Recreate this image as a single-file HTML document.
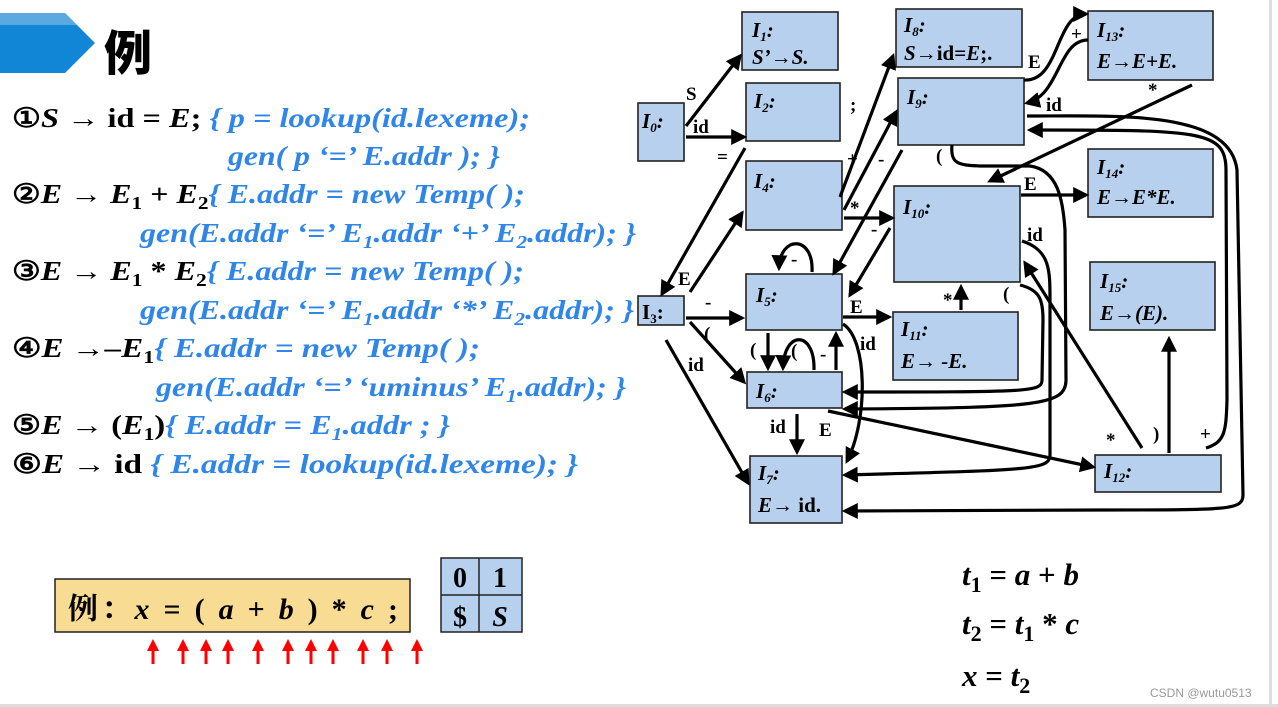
<!DOCTYPE html>
<html><head><meta charset="utf-8"><style>
html,body{margin:0;padding:0;background:#fff;}
svg{display:block;}
</style></head><body>
<svg width="1278" height="707" viewBox="0 0 1278 707" xmlns="http://www.w3.org/2000/svg">
<defs>
<marker id="a" markerWidth="5" markerHeight="5" refX="4" refY="2.5" orient="auto" markerUnits="strokeWidth">
<path d="M0,0 L5,2.5 L0,5 Z" fill="#000"/></marker>
<marker id="r" markerWidth="4" markerHeight="4" refX="3" refY="2" orient="auto" markerUnits="strokeWidth">
<path d="M0,0 L4,2 L0,4 Z" fill="#f00"/></marker>
</defs>
<rect x="1269" y="0" width="3" height="707" fill="#ddd"/>
<rect x="0" y="704" width="1278" height="3" fill="#ddd"/>
<!-- header -->
<polygon points="0,13 65,13 95,43 65,73 0,73" fill="#1185d6"/>
<polygon points="0,13 65,13 77,25 0,25" fill="#5aa9e0"/>
<text x="104" y="70" style="font-family:'Noto Sans CJK SC','WenQuanYi Zen Hei',sans-serif;font-weight:900;font-size:48px">例</text>

<!-- rules -->
<g style="font-family:'Liberation Serif','Times New Roman',serif;font-weight:bold;font-size:27px" fill="#000">
<text x="12" y="127" textLength="518" lengthAdjust="spacingAndGlyphs"><tspan>①</tspan><tspan font-style="italic">S</tspan><tspan> → id = </tspan><tspan font-style="italic">E</tspan><tspan>; </tspan><tspan fill="#2f86e8" font-style="italic">{ p = lookup(id.lexeme);</tspan></text>
<text x="228" y="165" textLength="272" lengthAdjust="spacingAndGlyphs" fill="#2f86e8" font-style="italic">gen( p ‘=’ E.addr ); }</text>
<text x="12" y="203" textLength="513" lengthAdjust="spacingAndGlyphs"><tspan>②</tspan><tspan font-style="italic">E</tspan><tspan> → </tspan><tspan font-style="italic">E</tspan><tspan font-size="18" dy="6">1</tspan><tspan dy="-6"> + </tspan><tspan font-style="italic">E</tspan><tspan font-size="18" dy="6">2</tspan><tspan fill="#2f86e8" font-style="italic" dy="-6">{ E.addr = new Temp( );</tspan></text>
<text x="140" y="242" textLength="496" lengthAdjust="spacingAndGlyphs" fill="#2f86e8" font-style="italic">gen(E.addr ‘=’ E<tspan font-size="18" dy="6">1</tspan><tspan dy="-6">.addr ‘+’ E</tspan><tspan font-size="18" dy="6">2</tspan><tspan dy="-6">.addr); }</tspan></text>
<text x="12" y="280" textLength="512" lengthAdjust="spacingAndGlyphs"><tspan>③</tspan><tspan font-style="italic">E</tspan><tspan> → </tspan><tspan font-style="italic">E</tspan><tspan font-size="18" dy="6">1</tspan><tspan dy="-6"> * </tspan><tspan font-style="italic">E</tspan><tspan font-size="18" dy="6">2</tspan><tspan fill="#2f86e8" font-style="italic" dy="-6">{ E.addr = new Temp( );</tspan></text>
<text x="140" y="319" textLength="494" lengthAdjust="spacingAndGlyphs" fill="#2f86e8" font-style="italic">gen(E.addr ‘=’ E<tspan font-size="18" dy="6">1</tspan><tspan dy="-6">.addr ‘*’ E</tspan><tspan font-size="18" dy="6">2</tspan><tspan dy="-6">.addr); }</tspan></text>
<text x="12" y="357" textLength="468" lengthAdjust="spacingAndGlyphs"><tspan>④</tspan><tspan font-style="italic">E</tspan><tspan> →</tspan><tspan font-style="italic">–E</tspan><tspan font-size="18" dy="6">1</tspan><tspan fill="#2f86e8" font-style="italic" dy="-6">{ E.addr = new Temp( );</tspan></text>
<text x="156" y="396" textLength="470" lengthAdjust="spacingAndGlyphs" fill="#2f86e8" font-style="italic">gen(E.addr ‘=’ ‘uminus’ E<tspan font-size="18" dy="6">1</tspan><tspan dy="-6">.addr); }</tspan></text>
<text x="12" y="434" textLength="438" lengthAdjust="spacingAndGlyphs"><tspan>⑤</tspan><tspan font-style="italic">E</tspan><tspan> → (</tspan><tspan font-style="italic">E</tspan><tspan font-size="18" dy="6">1</tspan><tspan dy="-6">)</tspan><tspan fill="#2f86e8" font-style="italic">{ E.addr = E</tspan><tspan fill="#2f86e8" font-style="italic" font-size="18" dy="6">1</tspan><tspan fill="#2f86e8" font-style="italic" dy="-6">.addr ; }</tspan></text>
<text x="12" y="473" textLength="566" lengthAdjust="spacingAndGlyphs"><tspan>⑥</tspan><tspan font-style="italic">E</tspan><tspan> → id   </tspan><tspan fill="#2f86e8" font-style="italic">{ E.addr = lookup(id.lexeme); }</tspan></text>
</g>

<!-- boxes -->
<g fill="#b7d0ee" stroke="#222" stroke-width="1.6">
<rect x="638" y="103" width="46" height="58"/>
<rect x="742" y="12" width="96" height="58"/>
<rect x="746" y="83" width="94" height="58"/>
<rect x="746" y="161" width="96" height="69"/>
<rect x="638" y="296" width="46" height="29"/>
<rect x="746" y="274" width="96" height="56"/>
<rect x="747" y="372" width="95" height="36"/>
<rect x="750" y="456" width="92" height="67"/>
<rect x="896" y="9" width="126" height="58"/>
<rect x="898" y="78" width="126" height="67"/>
<rect x="894" y="186" width="126" height="96"/>
<rect x="893" y="312" width="125" height="68"/>
<rect x="1088" y="11" width="125" height="69"/>
<rect x="1088" y="149" width="125" height="68"/>
<rect x="1090" y="262" width="125" height="68"/>
<rect x="1095" y="455" width="126" height="37"/>
</g>

<g style="font-family:'Liberation Serif','Times New Roman',serif;font-weight:bold;font-style:italic;font-size:21px" fill="#000">
<text x="642" y="128">I<tspan font-size="13" dy="4">0</tspan><tspan dy="-4">:</tspan></text>
<text x="752" y="37">I<tspan font-size="13" dy="4">1</tspan><tspan dy="-4">:</tspan></text>
<text x="752" y="64">S’→S.</text>
<text x="754" y="108">I<tspan font-size="13" dy="4">2</tspan><tspan dy="-4">:</tspan></text>
<text x="754" y="188">I<tspan font-size="13" dy="4">4</tspan><tspan dy="-4">:</tspan></text>
<text x="642" y="319" font-style="normal">I<tspan font-size="13" dy="4">3</tspan><tspan dy="-4">:</tspan></text>
<text x="756" y="302">I<tspan font-size="13" dy="4">5</tspan><tspan dy="-4">:</tspan></text>
<text x="756" y="398">I<tspan font-size="13" dy="4">6</tspan><tspan dy="-4">:</tspan></text>
<text x="758" y="480">I<tspan font-size="13" dy="4">7</tspan><tspan dy="-4">:</tspan></text>
<text x="758" y="512">E→ <tspan font-style="normal">id.</tspan></text>
<text x="904" y="32">I<tspan font-size="13" dy="4">8</tspan><tspan dy="-4">:</tspan></text>
<text x="904" y="60">S→<tspan font-style="normal">id=</tspan>E<tspan font-style="normal">;.</tspan></text>
<text x="907" y="104">I<tspan font-size="13" dy="4">9</tspan><tspan dy="-4">:</tspan></text>
<text x="903" y="214">I<tspan font-size="13" dy="4">10</tspan><tspan dy="-4">:</tspan></text>
<text x="901" y="336">I<tspan font-size="13" dy="4">11</tspan><tspan dy="-4">:</tspan></text>
<text x="901" y="368">E→ -E.</text>
<text x="1097" y="37">I<tspan font-size="13" dy="4">13</tspan><tspan dy="-4">:</tspan></text>
<text x="1097" y="68">E→E+E.</text>
<text x="1097" y="174">I<tspan font-size="13" dy="4">14</tspan><tspan dy="-4">:</tspan></text>
<text x="1097" y="204">E→E*E.</text>
<text x="1100" y="288">I<tspan font-size="13" dy="4">15</tspan><tspan dy="-4">:</tspan></text>
<text x="1100" y="320">E→(E).</text>
<text x="1104" y="478">I<tspan font-size="13" dy="4">12</tspan><tspan dy="-4">:</tspan></text>
</g>

<!-- edges -->
<g fill="none" stroke="#000" stroke-width="3.2" marker-end="url(#a)">
<path d="M686,126 L740,56"/>
<path d="M686,137 L744,137"/>
<path d="M745,148 L662,294"/>
<path d="M690,292 L742,213"/>
<path d="M686,318 L742,318"/>
<path d="M690,322 L744,382"/>
<path d="M666,340 L748,483"/>
<path d="M840,197 L893,56"/>
<path d="M844,210 L896,112"/>
<path d="M902,150 L834,273"/>
<path d="M844,218 L892,218"/>
<path d="M890,228 L850,295"/>
<path d="M812,272 C814,235 780,235 779,268"/>
<path d="M843,317 L889,317"/>
<path d="M843,324 C868,340 868,420 847,461"/>
<path d="M836,370 L836,334"/>
<path d="M768,333 L768,368"/>
<path d="M814,370 C815,330 784,330 783,368"/>
<path d="M797,414 L797,452"/>
<path d="M828,411 L1093,467"/>
<path d="M961,310 L961,287"/>
<path d="M1024,80 C1060,82 1055,14 1086,14"/>
<path d="M1088,40 C1058,40 1060,95 1027,103"/>
<path d="M1192,85 L990,181"/>
<path d="M1021,195 L1086,195"/>
<path d="M1027,116 C1120,116 1230,110 1237,170 L1243,495 C1243,510 1230,510 1100,510 L845,511"/>
<path d="M1206,448 C1225,442 1226,432 1227,400 L1226,170 C1226,130 1200,130 1030,130"/>
<path d="M952,145 C950,165 960,165 980,166 L1030,166 C1058,170 1063,200 1065,230 L1066,380 C1066,405 1040,408 845,409"/>
<path d="M1020,285 C1040,290 1043,300 1043,320 L1042,380 C1042,392 1030,392 845,392"/>
<path d="M1022,241 C1050,250 1050,270 1050,300 L1050,455 C1050,470 1030,470 845,475"/>
<path d="M1142,448 L1025,263"/>
<path d="M1169,453 L1169,339"/>
</g>

<g style="font-family:'Liberation Serif','Times New Roman',serif;font-weight:bold;font-size:19px" fill="#000">
<text x="686" y="100">S</text>
<text x="693" y="133">id</text>
<text x="717" y="163">=</text>
<text x="678" y="285">E</text>
<text x="705" y="308">-</text>
<text x="704" y="340">(</text>
<text x="688" y="371">id</text>
<text x="850" y="111">;</text>
<text x="847" y="165">+</text>
<text x="878" y="165">-</text>
<text x="850" y="214">*</text>
<text x="871" y="235">-</text>
<text x="791" y="265">-</text>
<text x="850" y="313">E</text>
<text x="860" y="350">id</text>
<text x="820" y="360">-</text>
<text x="750" y="356">(</text>
<text x="791" y="357">(</text>
<text x="770" y="433">id</text>
<text x="819" y="436">E</text>
<text x="943" y="306">*</text>
<text x="1028" y="68">E</text>
<text x="1071" y="40">+</text>
<text x="1046" y="111">id</text>
<text x="1148" y="96">*</text>
<text x="1024" y="190">E</text>
<text x="936" y="162">(</text>
<text x="1003" y="300">(</text>
<text x="1027" y="241">id</text>
<text x="1106" y="446">*</text>
<text x="1153" y="440">)</text>
<text x="1200" y="440">+</text>
</g>

<!-- bottom example -->
<rect x="55" y="579" width="355" height="53" fill="#f9dc93" stroke="#222" stroke-width="1.5"/>
<text x="68" y="619" textLength="330" lengthAdjust="spacing" style="font-family:'Liberation Serif','Times New Roman','Noto Serif CJK SC',serif;font-weight:bold;font-size:30px">例：<tspan font-style="italic">x</tspan> = ( <tspan font-style="italic">a</tspan> + <tspan font-style="italic">b</tspan> ) * <tspan font-style="italic">c</tspan> ;</text>
<g stroke="#f00" stroke-width="3" marker-end="url(#r)">
<line x1="153" y1="664" x2="153" y2="642"/><line x1="183" y1="664" x2="183" y2="642"/>
<line x1="206" y1="664" x2="206" y2="642"/><line x1="228" y1="664" x2="228" y2="642"/>
<line x1="258" y1="664" x2="258" y2="642"/><line x1="288" y1="664" x2="288" y2="642"/>
<line x1="311" y1="664" x2="311" y2="642"/><line x1="333" y1="664" x2="333" y2="642"/>
<line x1="363" y1="664" x2="363" y2="642"/><line x1="387" y1="664" x2="387" y2="642"/>
<line x1="417" y1="664" x2="417" y2="642"/>
</g>
<rect x="441" y="558" width="81" height="74" fill="#b7d0ee" stroke="#222" stroke-width="1.5"/>
<line x1="441" y1="595" x2="522" y2="595" stroke="#222" stroke-width="1.5"/>
<line x1="479" y1="558" x2="479" y2="632" stroke="#222" stroke-width="1.5"/>
<g style="font-family:'Liberation Serif','Times New Roman',serif;font-weight:bold;font-size:28px" text-anchor="middle">
<text x="460" y="587">0</text><text x="500" y="587">1</text>
<text x="460" y="626">$</text><text x="500" y="626" font-style="italic">S</text>
</g>

<g style="font-family:'Liberation Serif','Times New Roman',serif;font-weight:bold;font-style:italic;font-size:31px">
<text x="962" y="585">t<tspan font-style="normal" font-size="22" dy="7">1</tspan><tspan dy="-7" font-style="normal"> = </tspan>a<tspan font-style="normal"> + </tspan>b</text>
<text x="962" y="634">t<tspan font-style="normal" font-size="22" dy="7">2</tspan><tspan dy="-7" font-style="normal"> = </tspan>t<tspan font-style="normal" font-size="22" dy="7">1</tspan><tspan dy="-7" font-style="normal"> * </tspan>c</text>
<text x="962" y="686">x<tspan font-style="normal"> = </tspan>t<tspan font-style="normal" font-size="22" dy="7">2</tspan></text>
</g>
<text x="1150" y="697" style="font-family:'Liberation Sans',sans-serif;font-size:12px" fill="#999">CSDN @wutu0513</text>
</svg>
</body></html>
